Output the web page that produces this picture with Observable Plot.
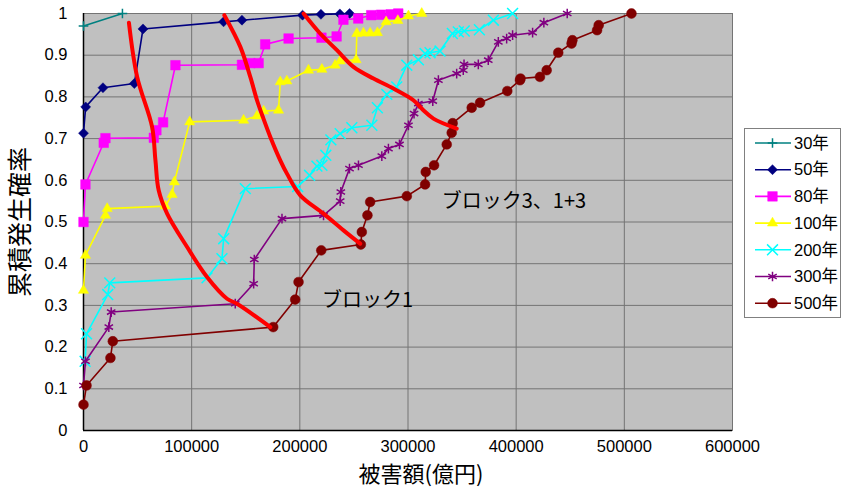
<!DOCTYPE html>
<html>
<head>
<meta charset="utf-8">
<script src="https://cdn.jsdelivr.net/npm/d3@7"></script>
<script src="https://cdn.jsdelivr.net/npm/@observablehq/plot@0.6"></script>
<style>
  body { margin: 0; background: #fff; }
  #chart { position: relative; width: 845px; height: 488px; }
  #legend { position: absolute; left: 744px; top: 128px; width: 97px; height: 190px;
            border: 1px solid #808080; background: #fff; box-sizing: border-box; }
</style>
</head>
<body>
<div id="chart"><div id="legend"></div></div>
<script>
// 再現期間ごとの被害額 [億円] と累積発生確率
const loss30  = [[0, 0.97], [36000, 1.0]];
const loss50  = [[0, 0.713], [2000, 0.776], [18000, 0.822], [47000, 0.832], [55000, 0.963],
                 [129500, 0.98], [146500, 0.984], [202500, 0.996], [219500, 0.998], [237000, 0.999], [246000, 1.0]];
const loss80  = [[0, 0.5], [1800, 0.59], [18700, 0.69], [20300, 0.701], [65000, 0.702], [67400, 0.72],
                 [73600, 0.739], [85000, 0.876], [146500, 0.877], [154200, 0.881], [161900, 0.881],
                 [168000, 0.926], [189600, 0.94], [220000, 0.942], [234000, 0.945], [240300, 0.985],
                 [254000, 0.988], [266000, 0.996], [275000, 0.997], [284000, 0.998], [291000, 1.0]];
const loss100 = [[0, 0.336], [1800, 0.42], [20300, 0.516], [21900, 0.532], [75700, 0.538], [81900, 0.566],
                 [84000, 0.596], [98200, 0.74], [148000, 0.744], [160300, 0.754], [166500, 0.766],
                 [180300, 0.768], [181900, 0.836], [188000, 0.838], [208000, 0.864], [220400, 0.866],
                 [232700, 0.876], [237300, 0.886], [252000, 0.889], [252700, 0.952], [258800, 0.953],
                 [265000, 0.953], [271700, 0.954], [279800, 0.98], [290600, 0.983], [300400, 0.994], [312700, 1.0]];
const loss200 = [[1500, 0.166], [2800, 0.232], [22400, 0.326], [24300, 0.354], [114200, 0.366],
                 [128000, 0.412], [129600, 0.46], [149600, 0.58], [198000, 0.585], [209000, 0.612],
                 [215800, 0.634], [220400, 0.636], [224000, 0.66], [228700, 0.697], [237300, 0.712],
                 [248100, 0.726], [266600, 0.732], [271700, 0.774], [280400, 0.806], [289600, 0.824],
                 [298900, 0.876], [309600, 0.889], [315800, 0.904], [320400, 0.906], [329600, 0.91],
                 [341000, 0.952], [346500, 0.956], [352000, 0.958], [366000, 0.961], [378900, 0.984], [396700, 1.0]];
const loss300 = [[0, 0.108], [1800, 0.166], [23400, 0.248], [25600, 0.284], [140300, 0.304],
                 [157300, 0.352], [157900, 0.41], [183500, 0.508], [221900, 0.516], [237300, 0.55],
                 [237900, 0.572], [245900, 0.628], [254200, 0.636], [275800, 0.658], [281900, 0.676],
                 [292100, 0.686], [300400, 0.732], [305600, 0.76], [309600, 0.784], [322900, 0.79],
                 [328100, 0.84], [345000, 0.856], [351100, 0.864], [351800, 0.878], [365000, 0.878],
                 [374200, 0.888], [383500, 0.932], [391200, 0.94], [396700, 0.948], [415200, 0.954],
                 [425600, 0.978], [447200, 1.0]];
const loss500 = [[0, 0.062], [2800, 0.108], [24900, 0.174], [27100, 0.214], [175400, 0.248],
                 [195700, 0.314], [198800, 0.356], [219800, 0.432], [256400, 0.446], [257300, 0.476],
                 [262500, 0.516], [265000, 0.548], [298900, 0.562], [315800, 0.59], [316400, 0.62],
                 [324100, 0.636], [335800, 0.686], [340400, 0.714], [341300, 0.737], [358900, 0.774],
                 [366600, 0.786], [391800, 0.814], [403500, 0.84], [404000, 0.844], [422000, 0.848],
                 [428200, 0.864], [438900, 0.906], [451200, 0.928], [452000, 0.936], [474800, 0.96],
                 [476300, 0.972], [506600, 1.0]];

// ブロック別の包絡曲線
const blockCurveA = [[42000, 0.978], [49600, 0.848], [63400, 0.728], [66500, 0.648], [69500, 0.576],
                     [77300, 0.52], [95800, 0.44], [114200, 0.368], [132700, 0.316], [141900, 0.304], [172700, 0.248]];
const blockCurveB = [[130200, 0.996], [145000, 0.92], [154200, 0.848], [160400, 0.792], [166200, 0.749],
                     [172700, 0.704], [181900, 0.648], [188100, 0.616], [200400, 0.564], [221900, 0.52],
                     [240400, 0.48], [255800, 0.448]];
const blockCurveC = [[203400, 1.0], [218800, 0.952], [234300, 0.912], [249600, 0.872], [268100, 0.844],
                     [286500, 0.82], [305000, 0.792], [314200, 0.768], [323500, 0.748], [345100, 0.724]];

const blockLabels = [
  {text: "ブロック3、1+3", x: 331200, y: 0.55},
  {text: "ブロック1", x: 220400, y: 0.312}
];

const xTicks = [0, 100000, 200000, 300000, 400000, 500000, 600000];
const yTicks = [0, 0.1, 0.2, 0.3, 0.4, 0.5, 0.6, 0.7, 0.8, 0.9, 1];
const xTitle = "被害額(億円)";
const yTitle = "累積発生確率";

const series = [
  {name: "30年",  data: loss30,  color: "#008080", symbol: "plus",     r: 3.2, filled: false},
  {name: "50年",  data: loss50,  color: "#000080", symbol: "diamond2", r: 4.5, filled: true},
  {name: "80年",  data: loss80,  color: "#ff00ff", symbol: "square",   r: 5.4, filled: true},
  {name: "100年", data: loss100, color: "#ffff00", symbol: "triangle", r: 3.8, filled: true},
  {name: "200年", data: loss200, color: "#00ffff", symbol: "times",    r: 5.0, filled: false},
  {name: "300年", data: loss300, color: "#800080", symbol: "asterisk", r: 4.6, filled: false},
  {name: "500年", data: loss500, color: "#800000", symbol: "circle",   r: 4.9, filled: true}
];

const numFont = '"Liberation Sans", "Noto Sans CJK JP", sans-serif';
const jpFont = '"Noto Sans CJK JP", sans-serif';

const seriesMarks = series.flatMap(s => [
  Plot.line(s.data, {x: d => d[0], y: d => d[1], stroke: s.color, strokeWidth: 1.6}),
  Plot.dot(s.data, {
    x: d => d[0], y: d => d[1], symbol: s.symbol, r: s.r,
    fill: s.filled ? s.color : "none", stroke: s.color, strokeWidth: s.filled ? 0.5 : 1.5
  })
]);

const curveMarks = [blockCurveA, blockCurveB, blockCurveC].map(c =>
  Plot.line(c, {x: d => d[0], y: d => d[1], stroke: "#ff0000", strokeWidth: 4, curve: "catmull-rom"})
);

const chart = Plot.plot({
  width: 845,
  height: 488,
  marginLeft: 83,
  marginRight: 113,
  marginTop: 13,
  marginBottom: 58,
  style: {fontFamily: numFont, fontSize: "16.5px", color: "#000", background: "#fff"},
  x: {domain: [0, 600000]},
  y: {domain: [0, 1]},
  marks: [
    Plot.frame({fill: "#c0c0c0", stroke: "#808080"}),
    Plot.gridY(yTicks, {stroke: "#747474", strokeOpacity: 1, strokeWidth: 1}),
    Plot.gridX(xTicks, {stroke: "#747474", strokeOpacity: 1, strokeWidth: 1}),
    Plot.axisY(yTicks, {tickSize: 0, tickPadding: 16, tickFormat: d => String(+d.toFixed(1)), label: null}),
    Plot.axisX(xTicks, {tickSize: 0, tickPadding: 10, tickFormat: d => String(d), label: null}),
    Plot.ruleX([0], {stroke: "#000", strokeWidth: 1.5}),
    Plot.ruleY([0], {stroke: "#000", strokeWidth: 1.5}),
    ...seriesMarks,
    ...curveMarks,
    Plot.text(blockLabels, {x: "x", y: "y", text: "text", textAnchor: "start",
      fontSize: 20, fontFamily: jpFont, fill: "#000"}),
    Plot.text([xTitle], {frameAnchor: "bottom", textAnchor: "middle", lineAnchor: "middle",
      dx: 13, dy: 44, fontSize: 22, fontFamily: jpFont, fill: "#000"}),
    Plot.text([yTitle], {frameAnchor: "left", textAnchor: "middle", lineAnchor: "middle",
      dx: -63, rotate: -90, fontSize: 25, fontFamily: jpFont, fill: "#000"})
  ]
});
document.getElementById("chart").prepend(chart);

// 凡例
const symbolTypes = {
  plus: d3.symbolPlus, diamond2: d3.symbolDiamond2, square: d3.symbolSquare,
  triangle: d3.symbolTriangle, times: d3.symbolTimes, asterisk: d3.symbolAsterisk, circle: d3.symbolCircle
};
const lg = d3.select("#legend").append("svg").attr("width", 95).attr("height", 188)
  .style("font-family", numFont).style("font-size", "16.5px");
series.forEach((s, i) => {
  const g = lg.append("g").attr("transform", `translate(0,${14 + i * 26.7})`);
  g.append("line").attr("x1", 10).attr("x2", 46).attr("stroke", s.color).attr("stroke-width", 1.6);
  g.append("path").attr("transform", "translate(27.5,0)")
    .attr("d", d3.symbol(symbolTypes[s.symbol], Math.PI * s.r * s.r)())
    .attr("fill", s.filled ? s.color : "none").attr("stroke", s.color)
    .attr("stroke-width", s.filled ? 0.5 : 1.5);
  g.append("text").attr("x", 49).attr("dy", "0.35em").text(s.name);
});
</script>
</body>
</html>
